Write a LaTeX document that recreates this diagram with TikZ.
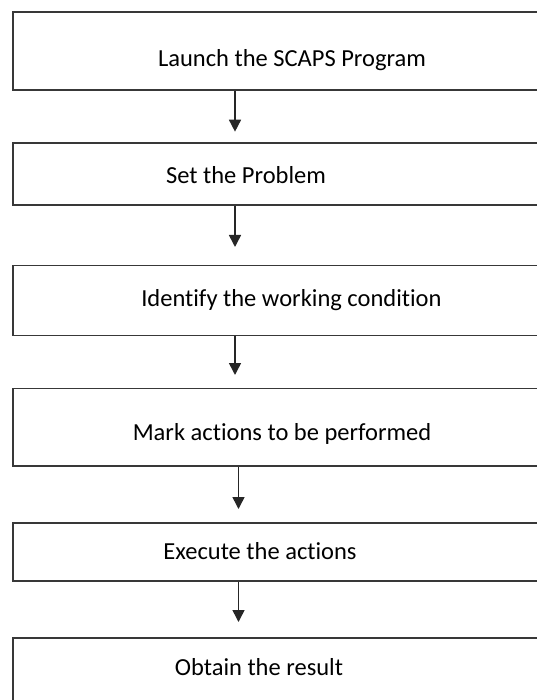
\documentclass[tikz,border=0pt]{standalone}
\usepackage{fontspec}
\setmainfont{Carlito}[Ligatures=NoCommon]
\usetikzlibrary{arrows.meta}
\begin{document}
\begin{tikzpicture}[x=1pt,y=-1pt,
  stepbox/.style={draw=black!78, line width=1.8pt, rectangle, inner sep=0pt,
                  anchor=north west, minimum width=560pt},
  steptext/.style={font=\fontsize{24.5}{28}\selectfont, anchor=base, inner sep=0pt},
  flow/.style={draw=black!85, line width=1.5pt, -{Triangle[width=12pt,length=12pt]}}]
\useasboundingbox (0,0) rectangle (537,700);
\clip (0,0) rectangle (537,700);

% step boxes (they run past the right and bottom page edges)
\node[stepbox, minimum height=78pt]   (b1) at (12,11) {};
\node[stepbox, minimum height=62pt]   (b2) at (12,142) {};
\node[stepbox, minimum height=70pt]   (b3) at (12,264.5) {};
\node[stepbox, minimum height=77.5pt] (b4) at (12,387.5) {};
\node[stepbox, minimum height=58pt]   (b5) at (12,522) {};
\node[stepbox, minimum height=100pt]  (b6) at (12,637) {};

% step labels
\node[steptext] (t1) at (292,66.7)  {Launch the SCAPS Program};
\node[steptext] (t2) at (246,183.3) {Set the Problem};
\node[steptext] (t3) at (291.4,306.7) {Identify the working condition};
\node[steptext] (t4) at (282,440)   {Mark actions to be performed};
\node[steptext] (t5) at (260,559)   {Execute the actions};
\node[steptext] (t6) at (259,675)   {Obtain the result};

% arrow tips
\coordinate (a1) at (235,131.7);
\coordinate (a2) at (235,247);
\coordinate (a3) at (235,375);
\coordinate (a4) at (238.5,509);
\coordinate (a5) at (238.5,622);

\draw[flow] (b1.south -| a1) -- (a1);
\draw[flow] (b2.south -| a2) -- (a2);
\draw[flow] (b3.south -| a3) -- (a3);
\draw[flow] (b4.south -| a4) -- (a4);
\draw[flow] (b5.south -| a5) -- (a5);
\end{tikzpicture}
\end{document}
